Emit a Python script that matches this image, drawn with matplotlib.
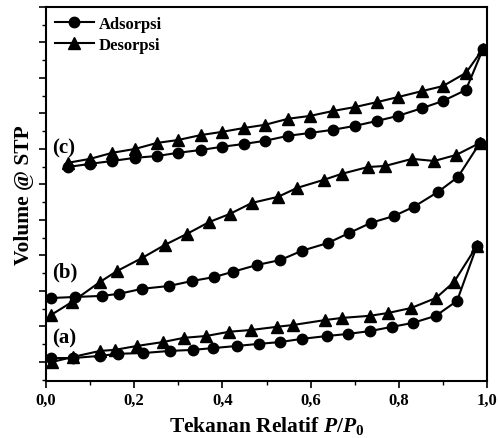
import matplotlib.pyplot as plt
from matplotlib.ticker import MultipleLocator

plt.rcParams["font.family"] = "Liberation Serif"
plt.rcParams["font.weight"] = "bold"
plt.rcParams["mathtext.fontset"] = "custom"
plt.rcParams["mathtext.rm"] = "Liberation Serif:bold"
plt.rcParams["mathtext.it"] = "Liberation Serif:italic:bold"

# (a)
a_ads_x = [0.011, 0.061, 0.122, 0.163, 0.220, 0.281, 0.333, 0.379, 0.433, 0.483,
           0.531, 0.580, 0.637, 0.685, 0.735, 0.785, 0.832, 0.884, 0.932, 0.977]
a_ads_y = [0.11, 0.11, 0.17, 0.23, 0.25, 0.31, 0.34, 0.39, 0.45, 0.51,
           0.56, 0.65, 0.73, 0.79, 0.87, 0.99, 1.10, 1.30, 1.72, 3.27]
a_des_x = [0.014, 0.061, 0.122, 0.156, 0.206, 0.265, 0.313, 0.363, 0.415, 0.465,
           0.524, 0.560, 0.633, 0.671, 0.735, 0.776, 0.828, 0.884, 0.925, 0.977]
a_des_y = [0.00, 0.14, 0.31, 0.34, 0.45, 0.56, 0.68, 0.73, 0.85, 0.90,
           0.99, 1.04, 1.18, 1.24, 1.30, 1.38, 1.52, 1.80, 2.25, 3.27]

# (b)
b_ads_x = [0.011, 0.066, 0.127, 0.166, 0.218, 0.279, 0.331, 0.381, 0.424, 0.478,
           0.531, 0.580, 0.639, 0.687, 0.737, 0.789, 0.834, 0.889, 0.934, 0.984]
b_ads_y = [1.80, 1.83, 1.86, 1.92, 2.06, 2.14, 2.28, 2.39, 2.54, 2.73,
           2.87, 3.13, 3.35, 3.63, 3.92, 4.11, 4.37, 4.79, 5.21, 6.17]
b_des_x = [0.011, 0.059, 0.122, 0.161, 0.218, 0.270, 0.320, 0.370, 0.417, 0.467,
           0.526, 0.569, 0.630, 0.671, 0.730, 0.769, 0.830, 0.880, 0.930, 0.984]
b_des_y = [1.32, 1.69, 2.25, 2.56, 2.93, 3.30, 3.61, 3.94, 4.17, 4.48,
           4.65, 4.90, 5.13, 5.30, 5.49, 5.52, 5.72, 5.66, 5.83, 6.17]

# (c)
c_x = [0.050, 0.100, 0.150, 0.202, 0.252, 0.299, 0.351, 0.399, 0.449, 0.497,
       0.549, 0.599, 0.651, 0.701, 0.751, 0.798, 0.853, 0.900, 0.952, 0.991]
c_ads_y = [5.49, 5.58, 5.66, 5.75, 5.80, 5.89, 5.97, 6.06, 6.14, 6.23,
           6.37, 6.45, 6.54, 6.65, 6.79, 6.93, 7.15, 7.35, 7.66, 8.82]
c_des_y = [5.61, 5.72, 5.89, 6.00, 6.17, 6.25, 6.39, 6.48, 6.59, 6.68,
           6.85, 6.93, 7.07, 7.18, 7.32, 7.46, 7.63, 7.77, 8.14, 8.82]

x_ticks = [0.0, 0.2, 0.4, 0.6, 0.8, 1.0]
x_tick_labels = ["0,0", "0,2", "0,4", "0,6", "0,8", "1,0"]

fig = plt.figure(figsize=(4.98, 4.39), dpi=100)
ax = fig.add_axes([0.0924, 0.130, 0.8856, 0.852])

ads_kw = dict(color="black", linewidth=1.5, marker="o", markersize=7.5)
des_kw = dict(color="black", linewidth=1.5, marker="^", markersize=8.5)
ax.plot(a_ads_x, a_ads_y, label="Adsorpsi", **ads_kw)
ax.plot(a_des_x, a_des_y, label="Desorpsi", **des_kw)
ax.plot(b_ads_x, b_ads_y, **ads_kw)
ax.plot(b_des_x, b_des_y, **des_kw)
ax.plot(c_x, c_ads_y, **ads_kw)
ax.plot(c_x, c_des_y, **des_kw)

ax.text(0.014, 0.68, "(a)", fontsize=15, fontweight="bold", va="center")
ax.text(0.014, 2.56, "(b)", fontsize=15, fontweight="bold", va="center")
ax.text(0.014, 6.03, "(c)", fontsize=15, fontweight="bold", va="center")

ax.set_xlim(0, 1.0)
ax.set_ylim(-0.535, 10.0)
ax.set_xticks(x_ticks)
ax.set_xticklabels(x_tick_labels, fontsize=12, fontweight="bold")
ax.xaxis.set_minor_locator(MultipleLocator(0.1))
ax.yaxis.set_major_locator(MultipleLocator(1))
ax.yaxis.set_minor_locator(MultipleLocator(0.5))
ax.set_yticklabels([])
ax.tick_params(which="major", direction="out", length=5, width=1.2, pad=3)
ax.tick_params(which="minor", direction="out", length=3, width=1.0)
for s in ax.spines.values():
    s.set_linewidth(1.5)

ax.set_xlabel("Tekanan Relatif $P/P_0$", fontsize=15.5, fontweight="bold", labelpad=4)
ax.set_ylabel("Volume @ STP", fontsize=15.5, fontweight="bold", labelpad=1)

ax.legend(loc="upper left", bbox_to_anchor=(0.0, 1.0), frameon=False,
          fontsize=12, handlelength=2.3, handletextpad=0.3,
          borderaxespad=0.15, labelspacing=0.3)

plt.savefig("out.png", dpi=100)
